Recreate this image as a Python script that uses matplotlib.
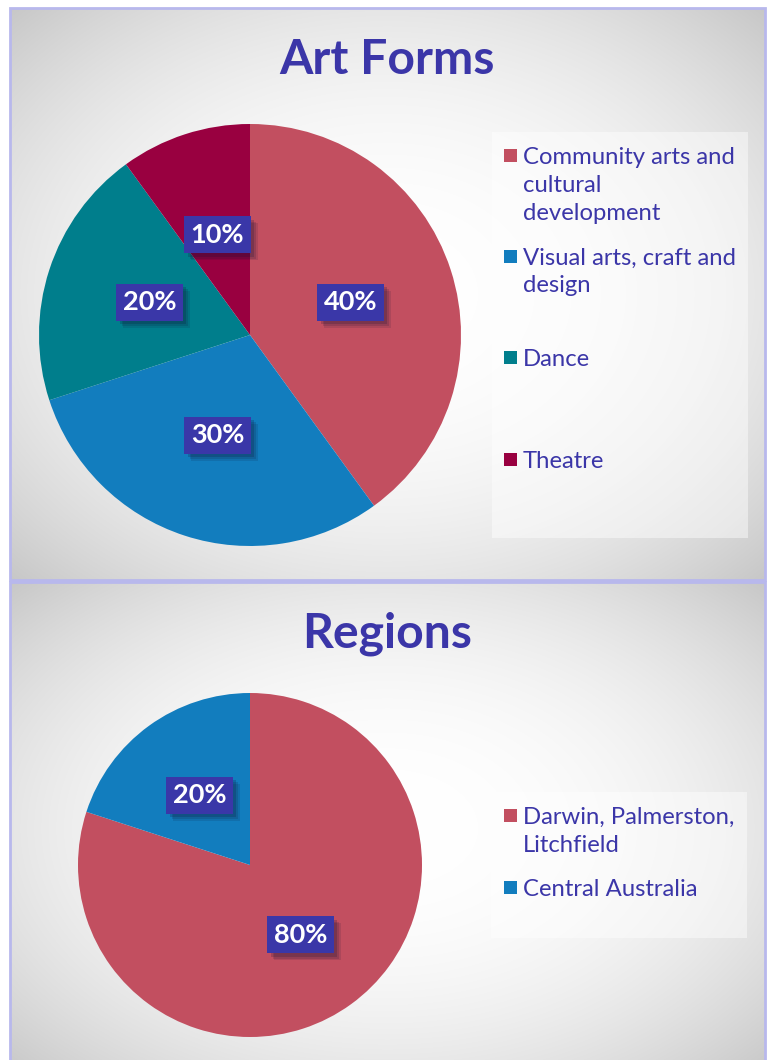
import matplotlib.pyplot as plt
import matplotlib.patheffects as pe
from matplotlib.patches import Rectangle
import numpy as np

plt.rcParams['font.family'] = ['Lato', 'DejaVu Sans']

# DATA
art_labels = ["Community arts and\ncultural\ndevelopment", "Visual arts, craft and\ndesign", "Dance", "Theatre"]
art_values = [40, 30, 20, 10]
art_colors = ['#C24F60', '#127DBE', '#007E8C', '#990040']

region_labels = ["Darwin, Palmerston,\nLitchfield", "Central Australia"]
region_values = [80, 20]
region_colors = ['#C24F60', '#127DBE']

W, H = 771, 1060
TITLE_C = '#3B36A8'
BOX_C = '#3A37A8'

fig = plt.figure(figsize=(W / 100, H / 100), dpi=100)


def px_axes(x0, y0, x1, y1, **kw):
    # pixel box (top-left origin) -> figure axes
    return fig.add_axes([x0 / W, (H - y1) / H, (x1 - x0) / W, (y1 - y0) / H], **kw)


def panel(x0, y0, x1, y1):
    ax = px_axes(x0, y0, x1, y1)
    w, h = x1 - x0, y1 - y0
    xx, yy = np.meshgrid(np.linspace(-1, 1, w), np.linspace(-1, 1, h))
    d = np.sqrt(xx ** 2 + yy ** 2)
    g = 1 - 0.1 * d ** 2.27
    ax.imshow(np.dstack([g, g, g]), aspect='auto', extent=(0, 1, 0, 1))
    ax.set_xlim(0, 1)
    ax.set_ylim(0, 1)
    ax.axis('off')
    ax.add_patch(Rectangle((0, 0), 1, 1, transform=ax.transAxes, fill=False,
                           edgecolor='#B8B8EC', linewidth=2, clip_on=False))
    return ax


def legend_box(x0, y0, x1, y1, labels, colors, ys):
    ax = px_axes(x0, y0, x1, y1)
    ax.set_xlim(x0, x1)
    ax.set_ylim(y1, y0)
    ax.axis('off')
    ax.add_patch(Rectangle((x0, y0), x1 - x0, y1 - y0, facecolor='white', alpha=0.45, edgecolor='none'))
    for lab, c, y in zip(labels, colors, ys):
        ax.add_patch(Rectangle((504, y - 6.5), 13, 13, facecolor=c, edgecolor='none'))
        for i, line in enumerate(lab.split('\n')):
            ax.text(523, y + i * 28, line, fontsize=17.2, color=TITLE_C,
                    va='center_baseline', ha='left')


def pie(cx, cy, r, values, colors):
    ax = px_axes(cx - r, cy - r, cx + r, cy + r)
    wedges, texts, autotexts = ax.pie(values, colors=colors, startangle=90, counterclock=False,
                                      autopct='%d%%', pctdistance=0.5, radius=1,
                                      wedgeprops=dict(linewidth=0))
    for t in autotexts:
        t.set_color('white')
        t.set_fontsize(19.5)
        t.set_fontweight('bold')
        t.set_bbox(dict(boxstyle='square,pad=0.24', facecolor=BOX_C, edgecolor='none'))
        t.get_bbox_patch().set_path_effects([
            pe.SimplePatchShadow(offset=(5, -5), alpha=0.12),
            pe.SimplePatchShadow(offset=(4, -4), alpha=0.15),
            pe.SimplePatchShadow(offset=(2.5, -2.5), alpha=0.2),
            pe.Normal()])
    ax.set_xlim(-1, 1)
    ax.set_ylim(-1, 1)
    ax.axis('off')
    return ax


# top panel
panel(10, 8, 765, 580)
fig.text(387 / W, 1 - 60 / H, "Art Forms", fontsize=34.7, fontweight='bold',
         color=TITLE_C, ha='center', va='center')
pie(250, 335, 211, art_values, art_colors)
legend_box(492, 132, 748, 538, art_labels, art_colors, [155, 256, 357, 459])

# bottom panel
panel(10, 582, 765, 1075)
fig.text(387 / W, 1 - 634 / H, "Regions", fontsize=34.7, fontweight='bold',
         color=TITLE_C, ha='center', va='center')
pie(250, 865, 172, region_values, region_colors)
legend_box(491, 792, 747, 938, region_labels, region_colors, [815, 887])

fig.savefig('out.png', dpi=100, facecolor='white')
